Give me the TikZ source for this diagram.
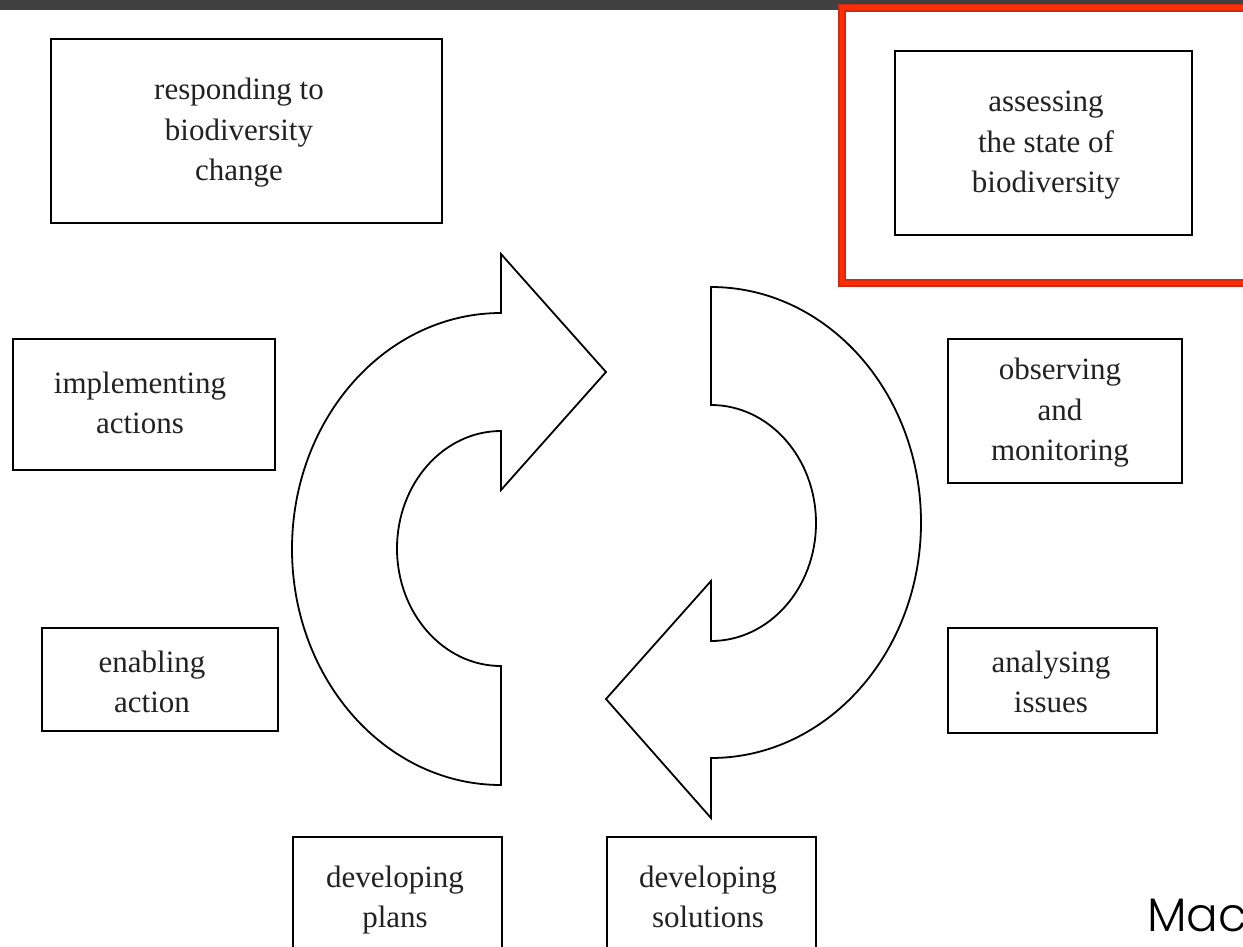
\documentclass[tikz,border=0pt]{standalone}
\usepackage{fontspec}
\setmainfont{Liberation Serif}
\newfontfamily\macfont[UprightFont=* Light]{Poppins}
\definecolor{barc}{HTML}{404040}
\definecolor{frameo}{HTML}{D02A12}
\definecolor{framei}{HTML}{FF2E05}
\definecolor{txt}{HTML}{222222}
\newcommand{\lnst}{\rule[-7.5pt]{0pt}{37.5pt}}
\tikzset{
  boxst/.style={draw=black,line width=2.1pt,fill=white,inner sep=0pt,outer sep=0pt,anchor=north west},
  lbl/.style={align=center,text=txt,inner sep=0pt,font=\fontsize{31}{40.5}\selectfont},
  arrowst/.style={draw=black,line width=1.8pt,fill=white,line join=miter}
}
\begin{document}
\begin{tikzpicture}[x=1pt,y=-1pt]
\useasboundingbox (0,0) rectangle (1243,946);
\clip (0,0) rectangle (1243,946);
\fill[white] (0,0) rectangle (1243,946);
\fill[barc] (0,0) rectangle (1243,9.5);
% red frame
\draw[frameo,line width=8pt,miter limit=10] (1260,7.5) -- (842,7.5) -- (842,283) -- (1260,283);
\draw[framei,line width=4.5pt] (1260,7.5) -- (842,7.5) -- (842,283) -- (1260,283);
% cycle arrows
\draw[arrowst] (501,254) -- (606,372) -- (501,490) -- (501,431)
  arc[start angle=270,end angle=90,x radius=104,y radius=117.5] -- (501,785)
  arc[start angle=90,end angle=270,x radius=209,y radius=236] -- cycle;
\draw[arrowst] (711,287) arc[start angle=-90,end angle=90,x radius=210,y radius=235.5]
  -- (711,818) -- (606,699) -- (711,581) -- (711,641)
  arc[start angle=90,end angle=-90,x radius=105,y radius=118] -- cycle;
% boxes
\node[boxst,minimum width=391.5pt,minimum height=183.8pt] (respbox) at (50.7,39.2) {};
\node[boxst,minimum width=297.5pt,minimum height=183.8pt] (assessbox) at (894.7,51.2) {};
\node[boxst,minimum width=262.5pt,minimum height=130.8pt] (implbox) at (12.7,339.2) {};
\node[boxst,minimum width=234.5pt,minimum height=143.8pt] (obsbox) at (947.7,339.2) {};
\node[boxst,minimum width=236.5pt,minimum height=102.8pt] (enabbox) at (41.7,628.2) {};
\node[boxst,minimum width=209.5pt,minimum height=104.8pt] (analbox) at (947.7,628.2) {};
\node[boxst,minimum width=209.5pt,minimum height=130pt] (planbox) at (292.7,837.2) {};
\node[boxst,minimum width=209.5pt,minimum height=130pt] (solbox) at (606.7,837.2) {};
% labels
\node[lbl] (resp) at (239,129) {\lnst responding to\\biodiversity\\change\lnst};
\node[lbl] (assess) at (1046,141) {\lnst assessing\\the state of\\biodiversity\lnst};
\node[lbl] (impl) at (140,402) {\lnst implementing\\actions\lnst};
\node[lbl] (obs) at (1060,409) {\lnst observing\\and\\monitoring\lnst};
\node[lbl] (enab) at (152,681) {\lnst enabling\\action\lnst};
\node[lbl] (anal) at (1051,681) {\lnst analysing\\issues\lnst};
\node[lbl] (plan) at (395,896) {\lnst developing\\plans\lnst};
\node[lbl] (sol) at (708,896) {\lnst developing\\solutions\lnst};
\node[anchor=base west,inner sep=0pt,font=\macfont\fontsize{47}{47}\selectfont] (mac) at (1147,931) {Mac};
\end{tikzpicture}
\end{document}
